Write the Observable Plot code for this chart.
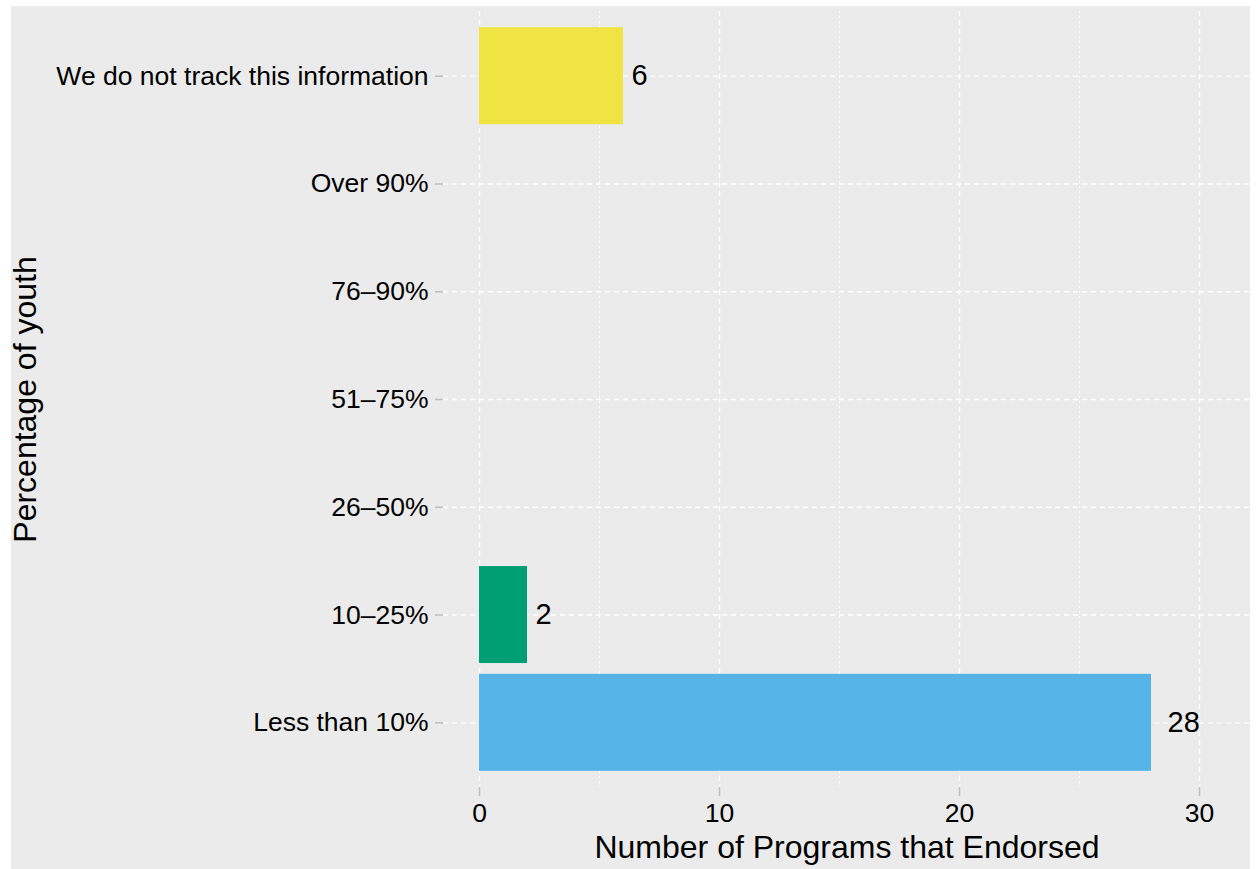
<!DOCTYPE html>
<html>
<head>
<meta charset="utf-8">
<script src="https://cdn.jsdelivr.net/npm/d3@7"></script>
<script src="https://cdn.jsdelivr.net/npm/@observablehq/plot@0.6"></script>
<style>
  html, body { margin: 0; padding: 0; background: #ffffff; }
  #wrap { position: relative; width: 1257px; height: 869px; overflow: hidden; }
  #bg { position: absolute; left: 11px; top: 6px; width: 1239px; height: 863px; background: #EBEBEB; }
  #chart { position: absolute; left: 0; top: 0; }
  #chart svg { display: block; }
</style>
</head>
<body>
<div id="wrap"><div id="bg"></div><div id="chart"></div></div>
<script>
// Categories top to bottom
const categories = [
  "We do not track this information",
  "Over 90%",
  "76–90%",
  "51–75%",
  "26–50%",
  "10–25%",
  "Less than 10%"
];
const counts = [6, 0, 0, 0, 0, 2, 28];
const barColors = ["#F0E442", "#999999", "#E69F00", "#CC79A7", "#0072B2", "#009E73", "#56B4E9"];
const majorTicks = [0, 10, 20, 30];
const minorTicks = [5, 15, 25];
const xTitle = "Number of Programs that Endorsed";
const yTitle = "Percentage of youth";

const data = categories.map((c, i) => ({category: c, count: counts[i], color: barColors[i]}));
const labelled = data.filter(d => d.count > 0);
const shortLab = labelled.filter(d => String(d.count).length === 1);
const longLab = labelled.filter(d => String(d.count).length > 1);

const font = "'Liberation Sans', Arial, Helvetica, sans-serif";

const chart = Plot.plot({
  width: 1257,
  height: 869,
  marginLeft: 443,
  marginRight: 7,
  marginTop: 11,
  marginBottom: 82,
  style: {background: "transparent", fontFamily: font, color: "black"},
  x: {domain: [-1.5, 32.125]},
  y: {domain: categories, paddingInner: 0.1, paddingOuter: 0.15, round: false},
  marks: [
    Plot.gridX(minorTicks, {stroke: "white", strokeOpacity: 1, strokeWidth: 0.9, strokeDasharray: "2,3"}),
    Plot.gridX(majorTicks, {stroke: "white", strokeOpacity: 1, strokeWidth: 1.4, strokeDasharray: "5,4"}),
    Plot.gridY(categories, {stroke: "white", strokeOpacity: 1, strokeWidth: 1.4, strokeDasharray: "5,4"}),
    Plot.barX(data.filter(d => d.count > 0), {x1: 0, x2: "count", y: "category", fill: d => d.color}),
    Plot.text(shortLab, {x: "count", y: "category", text: d => String(d.count), textAnchor: "start", dx: 8, fontSize: 29, fill: "black"}),
    Plot.text(longLab, {x: "count", y: "category", text: d => String(d.count), textAnchor: "start", dx: 16, fontSize: 29, fill: "black"}),
    Plot.axisX(majorTicks, {tickSize: 9, tickPadding: 7, stroke: "#BDBDBD", strokeWidth: 1.5, fill: "black", fontSize: 26.5, label: null}),
    Plot.axisY(categories, {tickSize: 8, tickPadding: 7, stroke: "#BDBDBD", strokeWidth: 1.5, fill: "black", fontSize: 26.5, label: null}),
    Plot.text([xTitle], {frameAnchor: "bottom", textAnchor: "middle", text: d => d, dy: 70, fontSize: 32, fill: "black"}),
    Plot.text([yTitle], {frameAnchor: "left", textAnchor: "middle", text: d => d, dx: -418, rotate: -90, fontSize: 32, fill: "black"})
  ]
});
document.getElementById("chart").appendChild(chart);
</script>
</body>
</html>
